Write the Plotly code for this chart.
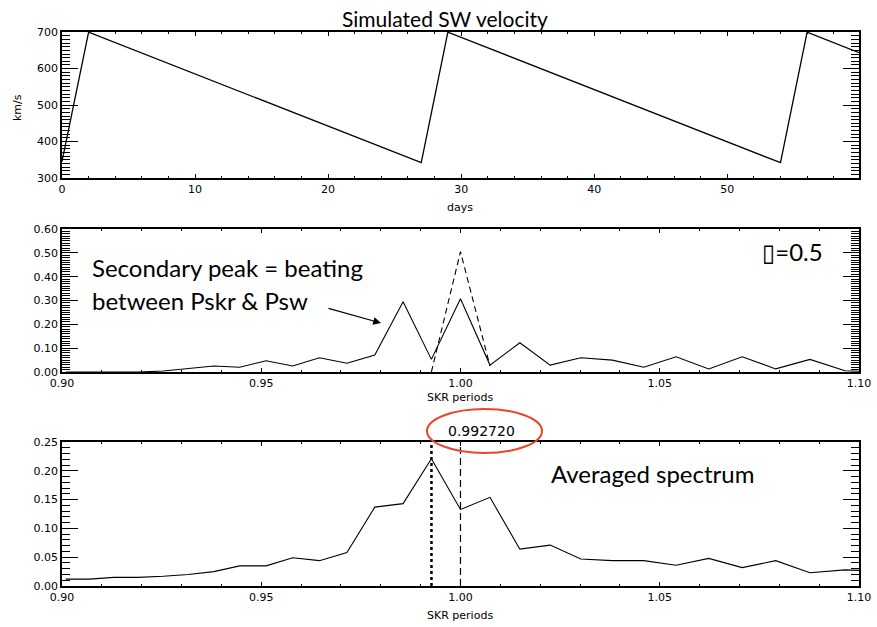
import plotly.graph_objects as go

# --- simulated solar-wind velocity (sawtooth) ---
days = [0, 2, 27, 29, 54, 56, 59.9]
vsw = [345, 700, 342, 700, 342, 700, 644]

# --- spectra on a common period grid (units of SKR period) ---
periods = [0.9009, 0.9069, 0.9130, 0.9191, 0.9254, 0.9317, 0.9381, 0.9446,
           0.9512, 0.9579, 0.9646, 0.9715, 0.9785, 0.9856, 0.9927, 1.0000,
           1.0074, 1.0149, 1.0225, 1.0302, 1.0381, 1.0460, 1.0541, 1.0623,
           1.0707, 1.0791, 1.0877, 1.0965, 1.1054]

power_mod = [0.0, 0.0, 0.0, 0.0, 0.004, 0.015, 0.025, 0.020,
             0.047, 0.025, 0.060, 0.037, 0.071, 0.295, 0.053, 0.307,
             0.029, 0.123, 0.029, 0.060, 0.050, 0.020, 0.064, 0.013,
             0.064, 0.013, 0.053, 0.005, 0.0]

pure_periods = [0.9927, 1.0000, 1.0074]
power_pure = [0.0, 0.505, 0.025]

power_avg = [0.012, 0.012, 0.015, 0.015, 0.017, 0.020, 0.025, 0.035,
             0.035, 0.049, 0.044, 0.058, 0.137, 0.143, 0.221, 0.133,
             0.154, 0.064, 0.071, 0.047, 0.044, 0.044, 0.036, 0.048,
             0.032, 0.044, 0.023, 0.028, 0.026]

peak_period = 0.992720
skr_period = 1.0

W, H = 877, 627
TICKFONT = dict(family="DejaVu Sans", size=11, color="black")
BIGFONT = dict(family="Lato", size=24, color="black")


def px(x):
    return x / W


def py(y):
    return 1 - y / H


fig = go.Figure()

fig.add_trace(go.Scatter(x=days, y=vsw, mode="lines",
                         line=dict(color="black", width=1.3),
                         xaxis="x", yaxis="y", showlegend=False))

fig.add_trace(go.Scatter(x=periods, y=power_mod, mode="lines",
                         line=dict(color="black", width=1.1),
                         xaxis="x2", yaxis="y2", showlegend=False))
fig.add_trace(go.Scatter(x=pure_periods, y=power_pure, mode="lines",
                         line=dict(color="black", width=1.1, dash="6px,4px"),
                         xaxis="x2", yaxis="y2", showlegend=False))

fig.add_trace(go.Scatter(x=periods, y=power_avg, mode="lines",
                         line=dict(color="black", width=1.1),
                         xaxis="x3", yaxis="y3", showlegend=False))


def xax(domain, rng, dtick, mdtick, anchor, fmt=None):
    d = dict(domain=domain, range=rng, tick0=rng[0], dtick=dtick,
             anchor=anchor, automargin=False,
             showline=True, linecolor="black", linewidth=1.5,
             mirror="allticks", ticks="inside", ticklen=4, tickwidth=1,
             tickcolor="black", showgrid=False, zeroline=False,
             tickfont=TICKFONT,
             minor=dict(ticks="inside", dtick=mdtick, ticklen=2,
                        tickcolor="black", showgrid=False))
    if fmt:
        d["tickformat"] = fmt
    return d


def yax(domain, rng, dtick, mdtick, anchor, fmt=None):
    d = dict(domain=domain, range=rng, tick0=0 if rng[0] < 1 else rng[0],
             dtick=dtick, anchor=anchor, automargin=False,
             showline=True, linecolor="black", linewidth=1.5,
             mirror="allticks", ticks="inside", ticklen=16, tickwidth=1,
             tickcolor="black", showgrid=False, zeroline=False,
             tickfont=TICKFONT,
             minor=dict(ticks="inside", dtick=mdtick, ticklen=8,
                        tickcolor="black", showgrid=False))
    if fmt:
        d["tickformat"] = fmt
    return d


xdom = [px(62), px(859)]
fig.update_layout(
    width=W, height=H,
    margin=dict(l=0, r=0, t=0, b=0, autoexpand=False),
    # transparent plot area so the inside ticks stay visible
    paper_bgcolor="white", plot_bgcolor="rgba(0,0,0,0)",
    xaxis=xax(xdom, [0, 59.9], 10, 2, "y"),
    yaxis=yax([py(178), py(32)], [300, 700.5], 100, 10, "x"),
    xaxis2=xax(xdom, [0.9, 1.10001], 0.05, 0.01, "y2", ".2f"),
    yaxis2=yax([py(372), py(229)], [0, 0.6001], 0.1, 0.01, "x2", ".2f"),
    xaxis3=xax(xdom, [0.9, 1.10001], 0.05, 0.01, "y3", ".2f"),
    yaxis3=yax([py(586), py(442)], [0, 0.2501], 0.05, 0.01, "x3", ".2f"),
)

# vertical markers in the averaged spectrum
fig.add_shape(type="line", xref="x3", yref="y3 domain",
              x0=peak_period, x1=peak_period, y0=0, y1=1,
              line=dict(color="black", width=2.5, dash="dot"))
fig.add_shape(type="line", xref="x3", yref="y3 domain",
              x0=skr_period, x1=skr_period, y0=0, y1=1,
              line=dict(color="black", width=1.2, dash="7px,4px"))

# red ellipse around the peak value
fig.add_shape(type="circle", xref="paper", yref="paper",
              x0=px(427), x1=px(542), y0=py(453), y1=py(409),
              line=dict(color="#E8462B", width=2))

ann = [
    dict(text="Simulated SW velocity", x=px(445), y=py(18),
         font=dict(family="Lato", size=21, color="black")),
    dict(text="km/s", x=px(17), y=py(108), textangle=-90,
         font=dict(family="DejaVu Sans", size=11, color="black")),
    dict(text="days", x=px(460), y=py(207), font=TICKFONT),
    dict(text="SKR periods", x=px(460), y=py(398), font=TICKFONT),
    dict(text="SKR periods", x=px(460), y=py(615), font=TICKFONT),
    dict(text="Secondary peak = beating", x=px(90), y=py(268),
         xanchor="left", font=BIGFONT),
    dict(text="between Pskr &amp; Psw", x=px(90), y=py(300),
         xanchor="left", font=BIGFONT),
    dict(text="<span style='font-family:DejaVu Sans'>\u25AF</span>=0.5",
         x=px(760), y=py(252), xanchor="left", font=BIGFONT),
    dict(text=f"{peak_period:.6f}", x=px(481), y=py(431),
         font=dict(family="DejaVu Sans", size=14, color="black")),
    dict(text="Averaged spectrum", x=px(652), y=py(474), font=BIGFONT),
]
for a in ann:
    a.setdefault("xanchor", "center")
    fig.add_annotation(xref="paper", yref="paper", showarrow=False,
                       yanchor="middle", **a)

# arrow pointing at the secondary peak
fig.add_annotation(xref="paper", yref="paper", x=px(381), y=py(323),
                   ax=-54, ay=-15, text="", showarrow=True,
                   arrowhead=2, arrowsize=1.3, arrowwidth=1.2,
                   arrowcolor="black")

fig.write_html("out.html", config={"displayModeBar": False},
               post_script="document.body.style.margin='0px';")
